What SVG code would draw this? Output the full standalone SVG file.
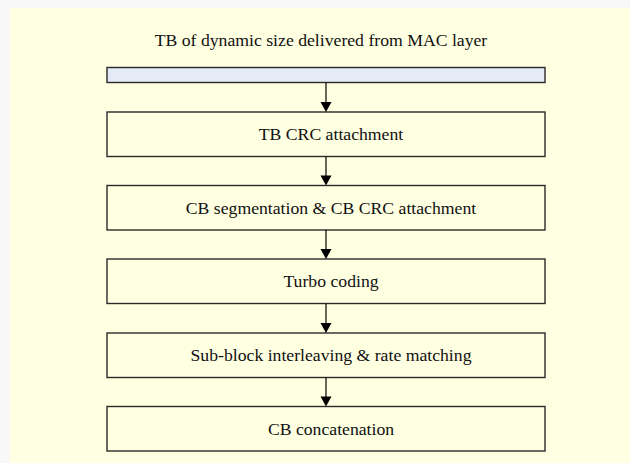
<svg xmlns="http://www.w3.org/2000/svg" width="630" height="463" viewBox="0 0 630 463">
<style>
  .box { fill: #FFFFE2; stroke: #2a2a2a; stroke-width: 1.4; }
  .bar { fill: #E4EBF6; stroke: #2a2a2a; stroke-width: 1.4; }
  .lbl { font-family: "Liberation Serif", "Times New Roman", serif; font-size: 17.7px; fill: #111; text-anchor: middle; }
  .conn { stroke: #000; stroke-width: 1.2; fill: none; }
  .head { fill: #000; }
</style>
<rect x="0" y="0" width="630" height="463" fill="#F8F8F8"/>
<rect x="10" y="8" width="620" height="455" fill="#FFFFE2"/>
<g id="title">
  <text class="lbl" x="321" y="46">TB of dynamic size delivered from MAC layer</text>
</g>
<g id="tb-bar">
  <rect class="bar" x="107" y="67.5" width="438" height="15"/>
</g>
<g id="tb-crc">
  <rect class="box" x="107" y="112" width="438" height="44.5"/>
  <text class="lbl" x="331" y="140">TB CRC attachment</text>
</g>
<g id="cb-seg">
  <rect class="box" x="107" y="185.5" width="438" height="44.5"/>
  <text class="lbl" x="331" y="213.5">CB segmentation &amp; CB CRC attachment</text>
</g>
<g id="turbo">
  <rect class="box" x="107" y="259" width="438" height="44.5"/>
  <text class="lbl" x="331" y="287">Turbo coding</text>
</g>
<g id="rate-match">
  <rect class="box" x="107" y="333" width="438" height="44.5"/>
  <text class="lbl" x="331" y="361">Sub-block interleaving &amp; rate matching</text>
</g>
<g id="cb-concat">
  <rect class="box" x="107" y="406.5" width="438" height="44.5"/>
  <text class="lbl" x="331" y="434.5">CB concatenation</text>
</g>
<g id="connectors">
  <line class="conn" x1="326" y1="82.5" x2="326" y2="103"/>
  <polygon class="head" points="320.5,102 331.5,102 326,112"/>
  <line class="conn" x1="326" y1="156.5" x2="326" y2="176"/>
  <polygon class="head" points="320.5,175.5 331.5,175.5 326,185.5"/>
  <line class="conn" x1="326" y1="230" x2="326" y2="250"/>
  <polygon class="head" points="320.5,249 331.5,249 326,259"/>
  <line class="conn" x1="326" y1="303.5" x2="326" y2="324"/>
  <polygon class="head" points="320.5,323 331.5,323 326,333"/>
  <line class="conn" x1="326" y1="377.5" x2="326" y2="397"/>
  <polygon class="head" points="320.5,396.5 331.5,396.5 326,406.5"/>
</g>
</svg>
